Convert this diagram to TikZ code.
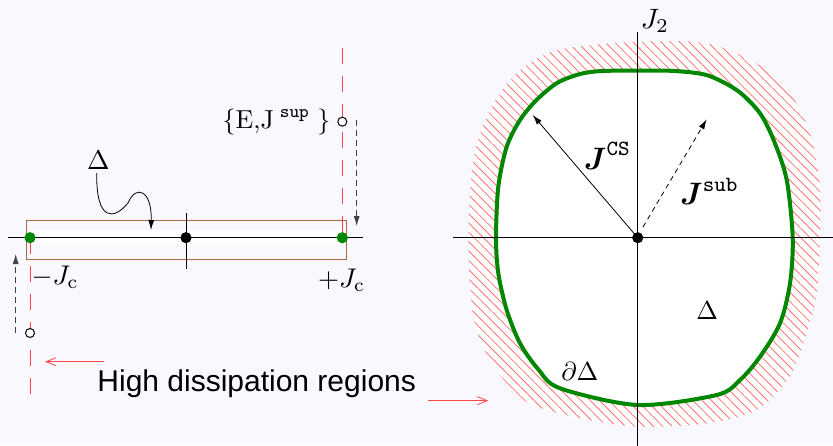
\documentclass[tikz,border=0pt]{standalone}
\usepackage{amsmath}
\usepackage{fontspec}
\newfontfamily\calloutfont{Liberation Sans}
\usetikzlibrary{arrows.meta,patterns.meta}
\definecolor{heavygreen}{rgb}{0,0.53,0}
\definecolor{rimbrown}{RGB}{165,105,75}
\definecolor{paper}{RGB}{248,248,254}
\definecolor{hotred}{RGB}{255,70,70}

\begin{document}
\begin{tikzpicture}[x=0.5pt, y=-0.5pt, >={Latex[length=5pt,width=3pt]},
    redguide/.style={hotred, dash pattern=on 8pt off 6pt},
    probe/.style={->, densely dashed, black!75},
    opendot/.style={draw, fill=white, line width=0.5pt},
    vecname/.style={scale=1.55}]
  \useasboundingbox (0,0) rectangle (833,445);
  \clip (0,0) rectangle (833,445);
  \fill[paper] (0,0) rectangle (833,445);

  % Left: the 1D segment [-Jc,+Jc]
  \coordinate (L) at (30,237.7); \coordinate (R) at (342.3,237.7);
  \coordinate (M) at (186,237.7);
  \fill[white] (30,230) rectangle (342.3,245);
  \draw[rimbrown] (26.7,220) rectangle (346.7,259);
  \draw (8.3,237.7) -- (363,237.7);
  \draw (186,213.3) -- (186,269.3);
  \draw[redguide] (342.3,48) -- (R);
  \draw[redguide] (L) -- (30,405);
  \fill (M) circle (2.8pt);
  \fill[heavygreen] (L) circle (2.8pt);
  \fill[heavygreen] (R) circle (2.8pt);
  \node[scale=1.35] (mjc) at (55,277) {$-J_{\mathrm{c}}$};
  \node[scale=1.35] (pjc) at (341.7,280) {$+J_{\mathrm{c}}$};
  % start points
  \path[opendot] (342.3,121.7) circle (2.25pt);
  \path[opendot] (30,333) circle (2.25pt);
  \node[scale=1.3] (esup) at (276.5,122) {$\{\mathrm{E{,}J}^{\;\mathtt{sup}}\;\}$};
  \coordinate (rtop) at (356.7,120); \coordinate (rend) at (356.7,226);
  \coordinate (lbot) at (15.7,333); \coordinate (lend) at (15.7,254);
  \draw[probe] (rtop) -- (rend);
  \draw[probe] (lbot) -- (lend);
  \node[scale=1.35] (delta) at (98.3,160) {$\Delta$};
  \coordinate (dtip) at (151,230);
  \draw[->] (96.7,173) .. controls (96,222) and (114,220) .. (128,203)
    .. controls (136,184) and (152,190) .. (dtip);

  % callout
  \node[font=\calloutfont\fontsize{15}{18}\selectfont] (hd) at (256.7,384) {High dissipation regions};
  \coordinate (ha) at (104.3,361.7); \coordinate (hb) at (45,361.7);
  \coordinate (hc) at (428.3,400.7); \coordinate (hdd) at (488.3,400.7);
  \draw[hotred, -{Straight Barb[length=5pt,width=4pt]}] (ha) -- (hb);
  \draw[hotred, -{Straight Barb[length=5pt,width=4pt]}] (hc) -- (hdd);

  % Right: the 2D domain
  \coordinate (O) at (637.7,237.7);
  \path[preaction={fill=white},
    pattern={Lines[angle=-45,distance=3.3pt,line width=0.4pt]}, pattern color=hotred!75]
    plot[smooth cycle] coordinates {(637.7,41.7) (706.7,43.3) (756.7,63.3) (790,93.3)
      (810,133.3) (820,186.7) (820,237.7) (816.7,293.3) (806.7,333.3) (790,376.7)
      (756.7,410) (706.7,423.3) (637.7,426.7) (573.3,416.7) (523.3,400) (490,360)
      (473.3,316.7) (468.3,237.7) (473.3,160) (490,110) (516.7,73.3) (556.7,50)};
  \filldraw[heavygreen, fill=white, line width=2pt]
    plot[smooth cycle, tension=0.5] coordinates {(637.7,70.7) (675,71) (708,75.5)
      (738,91) (760,113.3) (774,141) (786.7,180) (792.7,237.7) (790,283.3)
      (780,323.3) (760,356.7) (740,380) (716.7,395) (637.7,405) (560,388.3)
      (538,369) (520,343.3) (506.7,310) (498.3,273.3) (496,237.7) (498.3,186.7)
      (506.7,146.7) (520,120) (536,100.5) (557,83) (580,74) (602,71)};
  \draw (452.7,237.7) -- (845,237.7);
  \draw (637.7,31.7) -- (637.7,450);
  \node[scale=1.4] (j2) at (655,21) {$J_2$};
  \node[scale=1.4] (j1) at (847,223) {$J_1$};
  \coordinate (cs) at (532.7,115);
  \coordinate (subfoot) at (643,227); \coordinate (sub) at (706.7,119.3);
  \draw[->] (O) -- (cs);
  \draw[->, dashed, dash pattern=on 2.5pt off 2pt] (subfoot) -- (sub);
  \node[vecname] (jcs) at (607.5,156) {$\boldsymbol{J}^{\mathtt{CS}}$};
  \node[vecname] (jsub) at (709.5,191.5) {$\boldsymbol{J}^{\mathtt{sub}}$};
  \node[scale=1.3] (dom) at (707.2,310.8) {$\Delta$};
  \node[scale=1.3] (rim) at (579.7,371.7) {$\partial\Delta$};
  \fill (O) circle (2.8pt);
\end{tikzpicture}
\end{document}
